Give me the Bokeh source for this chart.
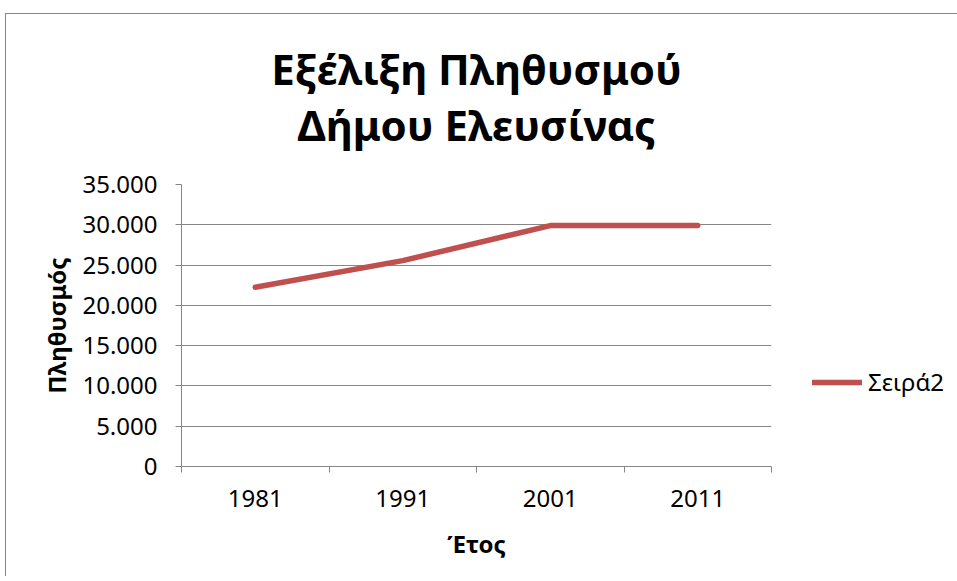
from bokeh.plotting import figure
from bokeh.models import FixedTicker, Legend, LegendItem, Title
from bokeh.embed import file_html
from bokeh.resources import INLINE

# ---- data ----
years = ["1981", "1991", "2001", "2011"]
population = [22250, 25550, 29900, 29900]
series_name = "Σειρά2"
y_ticks = [0, 5000, 10000, 15000, 20000, 25000, 30000, 35000]
y_tick_labels = ["0", "5.000", "10.000", "15.000", "20.000", "25.000", "30.000", "35.000"]
title_lines = ["Εξέλιξη Πληθυσμού", "Δήμου Ελευσίνας"]
x_title = "Έτος"
y_title = "Πληθυσμός"

FONT = "Noto Sans"
GRAY = "#868686"
RED = "#C0504D"

xs = [i + 1 for i in range(len(years))]

p = figure(frame_width=590, frame_height=282,
           min_border_left=175, min_border_right=178,
           min_border_top=170, min_border_bottom=110,
           x_range=(0.5, len(years) + 0.5), y_range=(0, 35000),
           title=None, output_backend="svg", toolbar_location=None)
p.styles = {"margin-left": "5px", "margin-top": "13px",
            "border-left": "1px solid #868686", "border-top": "1px solid #868686"}
p.background_fill_color = "white"
p.border_fill_color = "white"
p.outline_line_color = None

# x axis: labels at category centres, ticks at category boundaries
p.xaxis.ticker = FixedTicker(ticks=xs, minor_ticks=[i + 0.5 for i in range(len(years) + 1)])
p.xaxis.major_label_overrides = {x: y for x, y in zip(xs, years)}
p.xaxis.major_tick_out = 0
p.xaxis.major_tick_in = 0
p.xaxis.minor_tick_out = 6
p.xaxis.minor_tick_in = 0
p.xaxis.minor_tick_line_color = GRAY
p.xaxis.axis_line_color = GRAY
p.xaxis.major_label_standoff = 17
p.xaxis.major_label_text_font = FONT
p.xaxis.major_label_text_font_size = "24px"
p.xaxis.major_label_text_color = "black"
p.xaxis.axis_label = x_title
p.xaxis.axis_label_text_font = FONT
p.xaxis.axis_label_text_font_style = "bold"
p.xaxis.axis_label_text_font_size = "24px"
p.xaxis.axis_label_text_color = "black"
p.xaxis.axis_label_standoff = 17
p.xgrid.visible = False

p.yaxis.ticker = FixedTicker(ticks=y_ticks, minor_ticks=[])
p.yaxis.major_label_overrides = {t: l for t, l in zip(y_ticks, y_tick_labels)}
p.yaxis.major_tick_out = 6
p.yaxis.major_tick_in = 0
p.yaxis.major_tick_line_color = GRAY
p.yaxis.axis_line_color = GRAY
p.yaxis.major_label_standoff = 18
p.yaxis.major_label_text_font = FONT
p.yaxis.major_label_text_font_size = "24px"
p.yaxis.major_label_text_color = "black"
p.yaxis.axis_label = y_title
p.yaxis.axis_label_text_font = FONT
p.yaxis.axis_label_text_font_style = "bold"
p.yaxis.axis_label_text_font_size = "24px"
p.yaxis.axis_label_text_color = "black"
p.yaxis.axis_label_standoff = 6
p.ygrid.ticker = FixedTicker(ticks=y_ticks)
p.ygrid.grid_line_color = GRAY
p.ygrid.grid_line_width = 1

r = p.line(xs, population, line_color=RED, line_width=5.5, line_cap="round", line_join="round")

legend = Legend(items=[LegendItem(label=series_name, renderers=[r])],
                location=(41, 68), glyph_width=50, glyph_height=20,
                label_standoff=6, padding=0, margin=0,
                border_line_color=None, background_fill_alpha=0,
                label_text_font=FONT, label_text_font_size="24px",
                label_text_color="black")
p.add_layout(legend, "right")

# second line first (nearest the plot), then the first line above it
p.add_layout(Title(text=title_lines[1], align="center", standoff=64,
                   text_font=FONT, text_font_style="bold", text_font_size="42px",
                   text_color="black"), "above")
p.add_layout(Title(text=title_lines[0], align="center", standoff=-70,
                   text_font=FONT, text_font_style="bold", text_font_size="42px",
                   text_color="black"), "above")

open("out.html", "w").write(file_html(p, INLINE))
